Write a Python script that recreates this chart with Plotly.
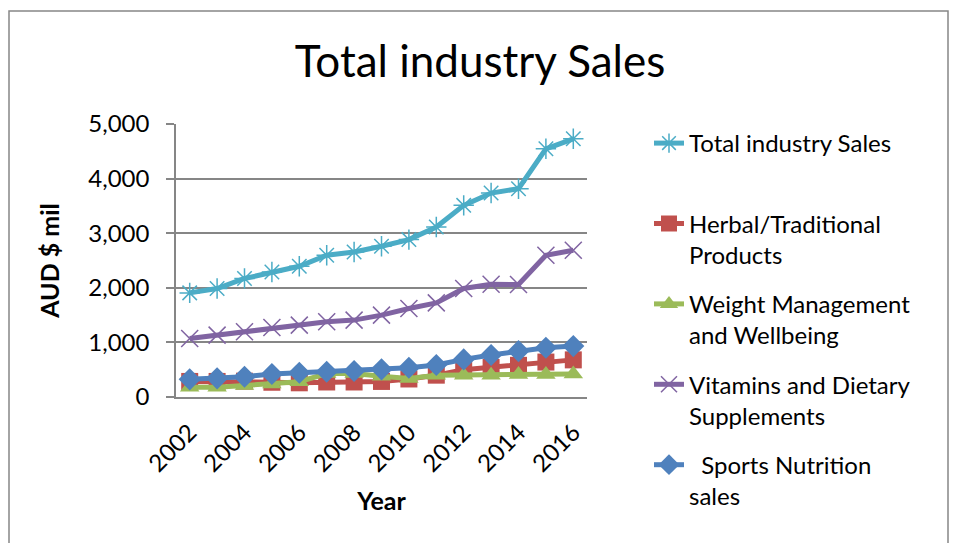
import plotly.graph_objects as go

years = ["2002", "2003", "2004", "2005", "2006", "2007", "2008", "2009",
         "2010", "2011", "2012", "2013", "2014", "2015", "2016"]
year_ticks = ["2002", "2004", "2006", "2008", "2010", "2012", "2014", "2016"]

total_sales = [1907, 1987, 2170, 2290, 2395, 2596, 2656, 2760, 2883, 3113, 3510, 3735, 3815, 4546, 4729]
herbal = [285, 285, 290, 270, 260, 275, 275, 285, 330, 400, 500, 540, 580, 640, 680]
weight = [180, 180, 210, 240, 280, 430, 430, 380, 340, 400, 400, 400, 410, 410, 420]
vitamins = [1073, 1133, 1194, 1274, 1316, 1377, 1408, 1499, 1621, 1724, 1987, 2066, 2060, 2596, 2687]
sports = [323, 342, 371, 420, 444, 463, 475, 506, 536, 585, 689, 768, 841, 901, 932]

y_ticks = [0, 1000, 2000, 3000, 4000, 5000]

FONT = "Lato, 'Open Sans', sans-serif"

series = [
    ("Total industry Sales<br> ", total_sales, "#4BACC6", "asterisk-open", 17),
    ("Herbal/Traditional<br>Products", herbal, "#C0504D", "square", 17),
    ("Weight Management<br>and Wellbeing", weight, "#9BBB59", "triangle-up", 17),
    ("Vitamins and Dietary<br>Supplements", vitamins, "#8064A2", "x-thin-open", 17),
    ("\u00a0\u00a0Sports Nutrition<br>sales", sports, "#4F81BD", "diamond", 17),
]

fig = go.Figure()
for i, (name, vals, color, sym, size) in enumerate(series):
    fig.add_trace(go.Scatter(
        x=years, y=vals, name=name, mode="lines+markers",
        legendgroup=f"g{i}",
        line=dict(color=color, width=5),
        marker=dict(symbol=sym, size=size, color=color,
                    line=dict(color=color, width=1.5 if "open" in sym else 0)),
    ))

L, R, T, B = 176, 587, 124, 397
W, H = 958, 543
pw, ph = R - L, B - T

def px_x(p):
    return (p - L) / pw

def px_y(p):
    return (B - p) / ph

fig.update_layout(
    width=W, height=H,
    margin=dict(l=L, r=W - R, t=T, b=H - B),
    paper_bgcolor="white", plot_bgcolor="white",
    font=dict(family=FONT, color="black", size=24),
    title=dict(text="Total industry Sales", x=480 / W,
               xanchor="center", y=1 - 62 / H, yanchor="middle",
               font=dict(size=44, family=FONT, color="black")),
    showlegend=True,
    legend=dict(x=px_x(649), xanchor="left", y=px_y(121), yanchor="top",
                traceorder="grouped", tracegroupgap=15, valign="top",
                maxheight=460,
                font=dict(size=24, family=FONT, color="black"),
                bgcolor="rgba(0,0,0,0)"),
    xaxis=dict(type="category", tickmode="array", tickvals=year_ticks, ticktext=year_ticks,
               tickangle=-45, tickfont=dict(size=24, family=FONT),
               ticklabelstandoff=10,
               showgrid=False, showline=True, linecolor="#868686", linewidth=1.5,
               ticks="", range=[-0.5, 14.5],
               title=dict(text="<b>Year</b>", font=dict(size=25, family=FONT), standoff=17)),
    yaxis=dict(range=[0, 5000], tickmode="array", tickvals=y_ticks,
               ticktext=[f"{v:,}" for v in y_ticks],
               tickfont=dict(size=24, family=FONT),
               ticklabelstandoff=12,
               showgrid=True, gridcolor="#868686", gridwidth=1.5,
               showline=True, linecolor="#868686", linewidth=1.5,
               ticks="outside", ticklen=8, tickcolor="#868686", tickwidth=1.5,
               zeroline=False,
               title=dict(text="<b>AUD $ mil</b>", font=dict(size=25, family=FONT), standoff=22)),
    shapes=[dict(type="rect", xref="paper", yref="paper",
                 x0=px_x(9), x1=px_x(948), y0=px_y(548), y1=px_y(11),
                 line=dict(color="#878787", width=1.5), fillcolor="rgba(0,0,0,0)", layer="below")],
)

fig.write_html("out.html")
